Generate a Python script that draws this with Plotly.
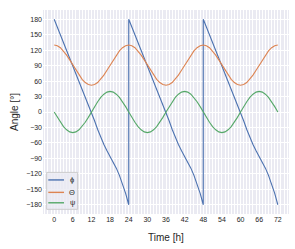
import plotly.graph_objects as go

# Time axis (hours)
time_h = list(range(0, 73))
x_ticks = list(range(0, 73, 6))
y_ticks = list(range(-180, 181, 30))

# phi: wraps from -180 to 180 at t=24 and t=48 (duplicate time points)
phi_time = (list(range(0, 25)) + list(range(24, 49)) + list(range(48, 73)))
phi_vals = [
    180, 165, 150, 135, 120, 105, 90, 75, 60, 45, 30, 15, 0,
    -17, -34, -50, -63, -75, -86, -96, -109, -123, -139, -158, -180,
    180, 165, 150, 135, 120, 105, 90, 75, 60, 45, 30, 15, 0,
    -17, -34, -50, -63, -75, -86, -96, -109, -123, -139, -158, -180,
    180, 165, 150, 135, 120, 105, 90, 75, 60, 45, 30, 15, 0,
    -17, -34, -50, -63, -75, -86, -96, -109, -123, -139, -158, -180,
]
theta_vals = [
    130, 128.7, 124.8, 118.6, 110.5, 101.1, 91, 80.9, 71.5, 63.4, 57.2, 53.3, 52,
    53.3, 57.2, 63.4, 71.5, 80.9, 91, 101.1, 110.5, 118.6, 124.8, 128.7,
    130, 128.7, 124.8, 118.6, 110.5, 101.1, 91, 80.9, 71.5, 63.4, 57.2, 53.3, 52,
    53.3, 57.2, 63.4, 71.5, 80.9, 91, 101.1, 110.5, 118.6, 124.8, 128.7,
    130, 128.7, 124.8, 118.6, 110.5, 101.1, 91, 80.9, 71.5, 63.4, 57.2, 53.3, 52,
    53.3, 57.2, 63.4, 71.5, 80.9, 91, 101.1, 110.5, 118.6, 124.8, 128.7, 130,
]
psi_vals = [
    0, -10.4, -20, -28.3, -34.6, -38.6, -40, -38.6, -34.6, -28.3, -20, -10.4, 0,
    10.4, 20, 28.3, 34.6, 38.6, 40, 38.6, 34.6, 28.3, 20, 10.4,
    0, -10.4, -20, -28.3, -34.6, -38.6, -40, -38.6, -34.6, -28.3, -20, -10.4, 0,
    10.4, 20, 28.3, 34.6, 38.6, 40, 38.6, 34.6, 28.3, 20, 10.4,
    0, -10.4, -20, -28.3, -34.6, -38.6, -40, -38.6, -34.6, -28.3, -20, -10.4, 0,
    10.4, 20, 28.3, 34.6, 38.6, 40, 38.6, 34.6, 28.3, 20, 10.4, 0,
]

series_names = ["ϕ", "Θ", "ψ"]
series_colors = ["#4C72B0", "#DD8452", "#55A868"]

fig = go.Figure()
fig.add_trace(go.Scatter(x=phi_time, y=phi_vals, mode="lines", name=series_names[0],
                         line=dict(color=series_colors[0], width=1.1)))
fig.add_trace(go.Scatter(x=time_h, y=theta_vals, mode="lines", name=series_names[1],
                         line=dict(color=series_colors[1], width=1.1)))
fig.add_trace(go.Scatter(x=time_h, y=psi_vals, mode="lines", name=series_names[2],
                         line=dict(color=series_colors[2], width=1.1)))

font_family = "Liberation Sans, Arial, sans-serif"

# Custom compact legend (matplotlib style), in paper coordinates
shapes = [dict(type="rect", xref="paper", yref="paper",
               x0=0.015, x1=0.141, y0=0.023, y1=0.204,
               fillcolor="rgba(234,234,242,0.8)", line=dict(color="#CCCCCC", width=1),
               layer="above")]
annotations = []
legend_y = [0.167, 0.106, 0.055]
for name, color, ly in zip(series_names, series_colors, legend_y):
    shapes.append(dict(type="line", xref="paper", yref="paper",
                       x0=0.0215, x1=0.0854, y0=ly, y1=ly,
                       line=dict(color=color, width=1.4), layer="above"))
    annotations.append(dict(text=name, xref="paper", yref="paper", x=0.119, y=ly,
                            showarrow=False, xanchor="center", yanchor="middle",
                            font=dict(size=7.5, color="#262626")))

annotations.append(dict(text="Time [h]", xref="paper", yref="paper",
                        x=0.5, y=-0.113, showarrow=False,
                        xanchor="center", yanchor="middle",
                        font=dict(size=10, color="#262626")))
annotations.append(dict(text="Angle [°]", xref="paper", yref="paper",
                        x=-0.118, y=0.5, showarrow=False, textangle=-90,
                        xanchor="center", yanchor="middle",
                        font=dict(size=10, color="#262626")))

fig.update_layout(
    width=295, height=249,
    margin=dict(l=43, r=6, t=10, b=35),
    paper_bgcolor="white",
    plot_bgcolor="#EAEAF2",
    font=dict(family=font_family, color="#262626", size=7),
    showlegend=False,
    shapes=shapes,
    annotations=annotations,
)
fig.update_xaxes(
    range=[-3.6, 75.6], tickvals=x_ticks, ticks="", showline=False,
    zeroline=False, showgrid=True, gridcolor="white", gridwidth=1,
    minor=dict(dtick=1, tick0=0, showgrid=True, gridcolor="white", gridwidth=0.5),
    tickfont=dict(size=7), automargin=False,
)
fig.update_yaxes(
    range=[-198, 198], tickvals=y_ticks, ticks="", showline=False,
    zeroline=False, showgrid=True, gridcolor="white", gridwidth=1,
    tickfont=dict(size=7), automargin=False,
)

fig.write_html("out.html", config={"displayModeBar": False},
               post_script="document.body.style.margin='0';document.body.style.overflow='hidden';")
